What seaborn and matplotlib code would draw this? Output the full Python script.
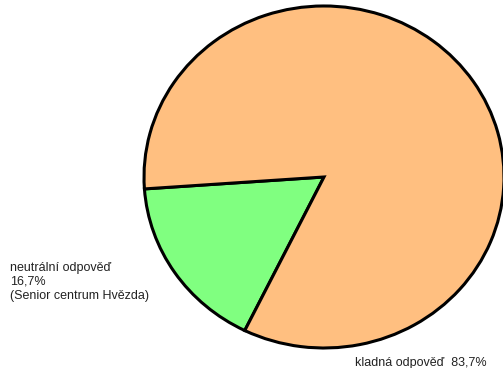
import matplotlib
matplotlib.use("Agg")
import matplotlib.pyplot as plt
import seaborn as sns

sns.set_style("white")
plt.rcParams['font.family'] = ['Liberation Sans', 'DejaVu Sans']

categories = ["neutrální odpověď", "kladná odpověď"]
values = [16.7, 83.7]
value_labels = ["16,7%", "83,7%"]
colors = ["#80FF80", "#FFBF80"]

fig = plt.figure(figsize=(5.03, 3.68), dpi=100)
ax = fig.add_axes([0, 0, 1, 1])
ax.pie(values, colors=colors, startangle=184, counterclock=True,
       radius=1, center=(0, 0),
       wedgeprops=dict(edgecolor="black", linewidth=2.2))
ax.set_aspect('auto')
ax.set_xlim(-1.8, 0.9944)
ax.set_ylim(-1.117, 1.035)
ax.axis('off')

fig.text(10 / 503, 1 - 262 / 368,
         f"{categories[0]}\n{value_labels[0]}\n(Senior centrum Hvězda)",
         fontsize=9, color="#222222", va="top", ha="left", linespacing=1.22)
fig.text(355 / 503, 1 - 357 / 368, f"{categories[1]}  {value_labels[1]}",
         fontsize=9, color="#222222", va="top", ha="left")

fig.savefig("out.png", dpi=100)
